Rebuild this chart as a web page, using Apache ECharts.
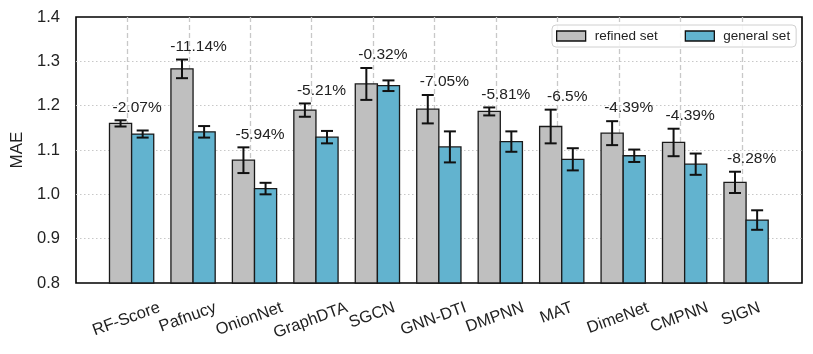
<!DOCTYPE html>
<html>
<head>
<meta charset="utf-8">
<script src="https://cdn.jsdelivr.net/npm/echarts@6/dist/echarts.min.js"></script>
<style>
  html, body { margin: 0; padding: 0; background: #fff; }
  #main { width: 813px; height: 354px; }
</style>
</head>
<body>
<div id="main"></div>
<script>
// MAE per model, refined vs general training set (mean and std)
const categories = ['RF-Score', 'Pafnucy', 'OnionNet', 'GraphDTA', 'SGCN', 'GNN-DTI', 'DMPNN', 'MAT', 'DimeNet', 'CMPNN', 'SIGN'];
const refinedMAE = [1.160, 1.283, 1.077, 1.190, 1.249, 1.192, 1.187, 1.153, 1.138, 1.117, 1.027];
const refinedStd = [0.007, 0.021, 0.029, 0.015, 0.036, 0.032, 0.009, 0.038, 0.027, 0.031, 0.024];
const generalMAE = [1.136, 1.141, 1.013, 1.129, 1.245, 1.107, 1.119, 1.079, 1.087, 1.068, 0.942];
const generalStd = [0.008, 0.013, 0.013, 0.014, 0.012, 0.035, 0.023, 0.025, 0.014, 0.024, 0.022];
const drops = ['-2.07%', '-11.14%', '-5.94%', '-5.21%', '-0.32%', '-7.05%', '-5.81%', '-6.5%', '-4.39%', '-4.39%', '-8.28%'];
const yTicks = [0.8, 0.9, 1.0, 1.1, 1.2, 1.3, 1.4];

const FONT = '"Liberation Sans", Arial, sans-serif';
const GREY = '#bfbfbf';
const BLUE = '#62b3cf';
const BAR_W = 0.36;      // bar width in category units
const SEAM = 0.07;       // the two bars meet a bit right of the tick
const Y_MIN = yTicks[0];
const XL_SIZE = 16.5;
const XL_ROT = 20 * Math.PI / 180;

const chart = echarts.init(document.getElementById('main'));

// matplotlib puts the top of the rotated label box at a fixed distance, so
// the centre of each label depends on its width
const measureCtx = document.createElement('canvas').getContext('2d');
measureCtx.font = XL_SIZE + 'px ' + FONT;
function labelDrop(text) {
    const w = measureCtx.measureText(text).width;
    return 18.5 + (w * Math.sin(XL_ROT) + 12 * Math.cos(XL_ROT)) / 2;
}

function barRender(side) {
    return function (params, api) {
        const x = api.value(0), v = api.value(1), e = api.value(2);
        const w = api.size([BAR_W, 0])[0];
        const cx = x + SEAM + side * BAR_W / 2;
        const top = api.coord([cx, v]);
        const base = api.coord([cx, Y_MIN]);
        const lo = api.coord([cx, v - e]);
        const hi = api.coord([cx, v + e]);
        const cap = 6;
        const ink = {stroke: '#111', lineWidth: 2};
        return {
            type: 'group',
            children: [
                {type: 'rect', shape: {x: top[0] - w / 2, y: top[1], width: w, height: base[1] - top[1]},
                    style: {fill: api.visual('color'), stroke: '#1a1a1a', lineWidth: 1.3}},
                {type: 'line', shape: {x1: top[0], y1: lo[1], x2: top[0], y2: hi[1]}, style: ink},
                {type: 'line', shape: {x1: top[0] - cap, y1: lo[1], x2: top[0] + cap, y2: lo[1]}, style: ink},
                {type: 'line', shape: {x1: top[0] - cap, y1: hi[1], x2: top[0] + cap, y2: hi[1]}, style: ink}
            ]
        };
    };
}

function dropRender(params, api) {
    const p = api.coord([api.value(0) + 0.16, api.value(1)]);
    return {
        type: 'text',
        x: p[0],
        y: p[1] - 13,
        style: {
            text: drops[params.dataIndex],
            fill: '#222',
            fontSize: 15.5,
            fontFamily: FONT,
            align: 'center',
            verticalAlign: 'middle'
        }
    };
}

function xLabelRender(params, api) {
    const p = api.coord([api.value(0), Y_MIN]);
    const text = categories[params.dataIndex];
    return {
        type: 'text',
        x: p[0] - 1,
        y: p[1] + labelDrop(text),
        rotation: XL_ROT,
        style: {
            text: text,
            fill: '#222',
            fontSize: XL_SIZE,
            fontFamily: FONT,
            align: 'center',
            verticalAlign: 'middle'
        }
    };
}

const option = {
    animation: false,
    backgroundColor: '#fff',
    grid: {
        left: 76, right: 11, top: 17, bottom: 71,
        show: true, borderColor: '#000', borderWidth: 1.6,
        containLabel: false, outerBoundsMode: 'none'
    },
    legend: {
        data: [{name: 'refined set', icon: 'rect'}, {name: 'general set', icon: 'rect'}],
        left: 552, top: 25,
        itemWidth: 29, itemHeight: 10, itemGap: 27,
        padding: [4, 6, 4, 4],
        backgroundColor: 'rgba(255,255,255,0.85)',
        borderColor: '#d0d0d0', borderWidth: 1, borderRadius: 4,
        selectedMode: false,
        itemStyle: {borderColor: '#111', borderWidth: 1.3},
        textStyle: {fontSize: 13.5, color: '#222', fontFamily: FONT, padding: [0, 0, 0, 4]}
    },
    xAxis: {
        type: 'value',
        min: -0.835, max: 10.98,
        splitNumber: 11, minInterval: 1, maxInterval: 1,
        axisLine: {show: false},
        axisTick: {show: false},
        axisLabel: {show: false},
        splitLine: {
            show: true, showMinLine: false, showMaxLine: false,
            lineStyle: {type: [5, 3], color: '#c8c8c8', width: 1.3}
        }
    },
    yAxis: {
        type: 'value',
        min: Y_MIN, max: yTicks[yTicks.length - 1], interval: 0.1,
        name: 'MAE', nameLocation: 'middle', nameGap: 45,
        nameTextStyle: {fontSize: 17, color: '#222', fontFamily: FONT},
        axisLine: {show: false},
        axisTick: {show: false},
        axisLabel: {
            formatter: v => v.toFixed(1),
            margin: 16, fontSize: 16.5, color: '#222', fontFamily: FONT
        },
        splitLine: {
            show: true, showMinLine: false, showMaxLine: false,
            lineStyle: {type: [1.5, 2.5], color: '#c8c8c8', width: 1.2}
        }
    },
    series: [
        {
            name: 'refined set',
            type: 'custom',
            itemStyle: {color: GREY},
            encode: {x: 0, y: 1},
            data: categories.map((c, i) => [i, refinedMAE[i], refinedStd[i]]),
            renderItem: barRender(-1),
            z: 3
        },
        {
            name: 'general set',
            type: 'custom',
            itemStyle: {color: BLUE},
            encode: {x: 0, y: 1},
            data: categories.map((c, i) => [i, generalMAE[i], generalStd[i]]),
            renderItem: barRender(1),
            z: 3
        },
        {
            name: 'drop',
            type: 'custom',
            encode: {x: 0, y: 1},
            data: categories.map((c, i) => [i, refinedMAE[i] + refinedStd[i]]),
            renderItem: dropRender,
            z: 4
        },
        {
            name: 'xlabels',
            type: 'custom',
            clip: false,
            silent: true,
            encode: {x: 0, y: 1},
            data: categories.map((c, i) => [i, Y_MIN]),
            renderItem: xLabelRender,
            z: 4
        }
    ]
};

chart.setOption(option);
</script>
</body>
</html>
